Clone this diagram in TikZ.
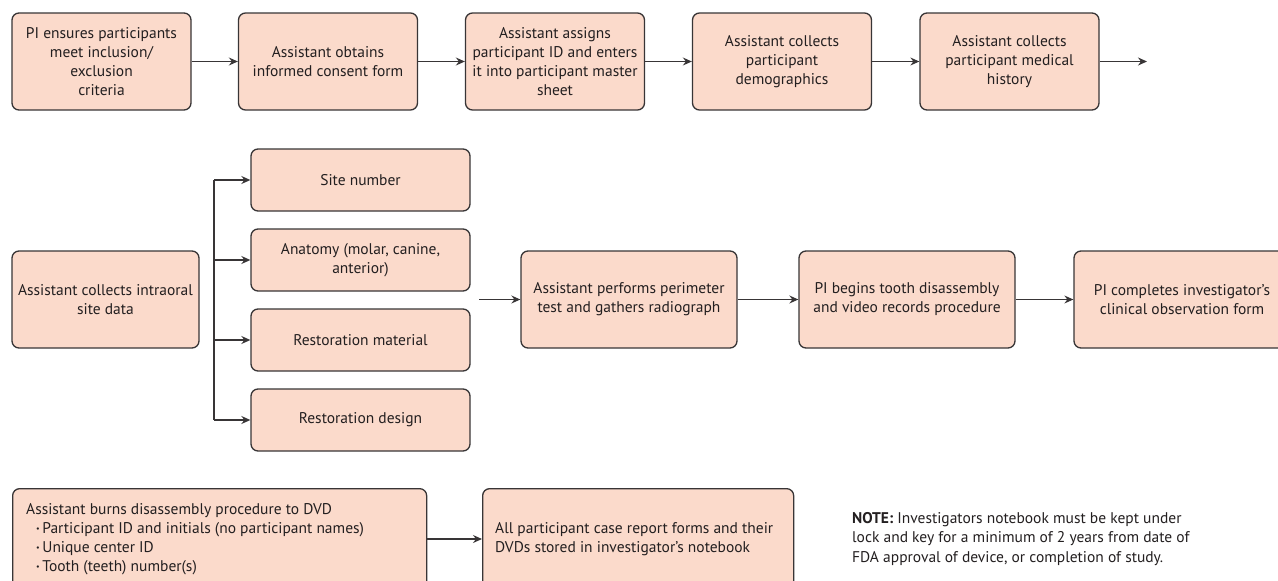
\documentclass[tikz,border=0pt]{standalone}
\usepackage{fontspec}
\setmainfont{PT Sans}
\usetikzlibrary{arrows.meta}
\definecolor{boxfill}{HTML}{FBDACB}
\definecolor{ink}{HTML}{231F20}
\definecolor{edge}{HTML}{383536}
\newcommand{\smbul}{\raisebox{1.5pt}{\fontsize{8}{8}\selectfont\textbullet}\,}
\begin{document}
\begin{tikzpicture}[x=1pt,y=-1pt,
  box/.style={draw=edge, line width=1.3pt, fill=boxfill, rounded corners=7pt,
    text=ink, align=center, inner sep=0pt,
    font=\fontsize{15.5}{19}\selectfont},
  topbox/.style={box, minimum width=179pt, minimum height=97pt},
  subbox/.style={box, minimum width=219pt, minimum height=62pt},
  midbox/.style={box, minimum width=216pt, minimum height=97pt},
  txt/.style={text=ink, inner sep=0pt, align=left, font=\fontsize{15.5}{19}\selectfont},
  arr/.style={draw=edge, line width=1.3pt, -{Stealth[length=9pt,width=8pt,inset=3pt]}},
  ln/.style={draw=edge, line width=1.3pt}]
\useasboundingbox (0,0) rectangle (1278,581);
\clip (0,0) rectangle (1278,581);

% top row
\node[topbox] (t1) at (101.5,61.5) {PI ensures participants\\meet inclusion/\\exclusion\\criteria};
\node[topbox] (t2) at (328,61.5) {Assistant obtains\\informed consent form};
\node[topbox] (t3) at (555,61.5) {Assistant assigns\\participant ID and enters\\it into participant master\\sheet};
\node[topbox] (t4) at (782,61.5) {Assistant collects\\participant\\demographics};
\node[topbox] (t5) at (1009.5,61.5) {Assistant collects\\participant medical\\history};
\coordinate (tend) at (1147,61.5);
\draw[arr] (t1) -- (t2);
\draw[arr] (t2) -- (t3);
\draw[arr] (t3) -- (t4);
\draw[arr] (t4) -- (t5);
\draw[arr] (t5) -- (tend);

% middle
\node[box, minimum width=187pt, minimum height=97pt] (intra) at (105.5,299.5) {Assistant collects intraoral\\site data};
\node[subbox] (s1) at (360.5,180) {Site number};
\node[subbox] (s2) at (360.5,260) {Anatomy (molar, canine,\\anterior)};
\node[subbox] (s3) at (360.5,340) {Restoration material};
\node[subbox] (s4) at (360.5,420) {Restoration design};
\coordinate (bt) at (214,180);
\coordinate (bb) at (214,420);
\draw[ln] (bt) -- (bb);
\draw[arr] (bt) -- (s1.west);
\draw[arr] (bt |- s2.west) -- (s2.west);
\draw[arr] (bt |- s3.west) -- (s3.west);
\draw[arr] (bb) -- (s4.west);

\node[midbox] (p) at (629,299.5) {Assistant performs perimeter\\test and gathers radiograph};
\node[midbox] (q) at (907,299.5) {PI begins tooth disassembly\\and video records procedure};
\node[midbox] (r) at (1182,299.5) {PI completes investigator’s\\clinical observation form};
\coordinate (fa) at (479,299.5);
\draw[arr] (fa) -- (p);
\draw[arr] (p) -- (q);
\draw[arr] (q) -- (r);

% bottom
\node[box, minimum width=414pt, minimum height=140pt, anchor=north west] (a) at (12,488) {};
\node[txt, anchor=north west] (at) at (26,503) {Assistant burns disassembly procedure to DVD\\
\hspace*{10pt}\smbul Participant ID and initials (no participant names)\\
\hspace*{10pt}\smbul Unique center ID\\
\hspace*{10pt}\smbul Tooth (teeth) number(s)};
\node[box, minimum width=311pt, minimum height=140pt, anchor=north west] (b) at (482,488) {};
\node[txt, anchor=west] (bt2) at (495,539) {All participant case report forms and their\\DVDs stored in investigator's notebook};
\draw[arr] (a.east |- bt2) -- (b.west |- bt2);

% note
\node[txt, anchor=north west, font=\fontsize{15.5}{19.5}\selectfont] (note) at (852,512) {\textbf{NOTE:} Investigators notebook must be kept under\\lock and key for a minimum of 2 years from date of\\FDA approval of device, or completion of study.};
\end{tikzpicture}
\end{document}
